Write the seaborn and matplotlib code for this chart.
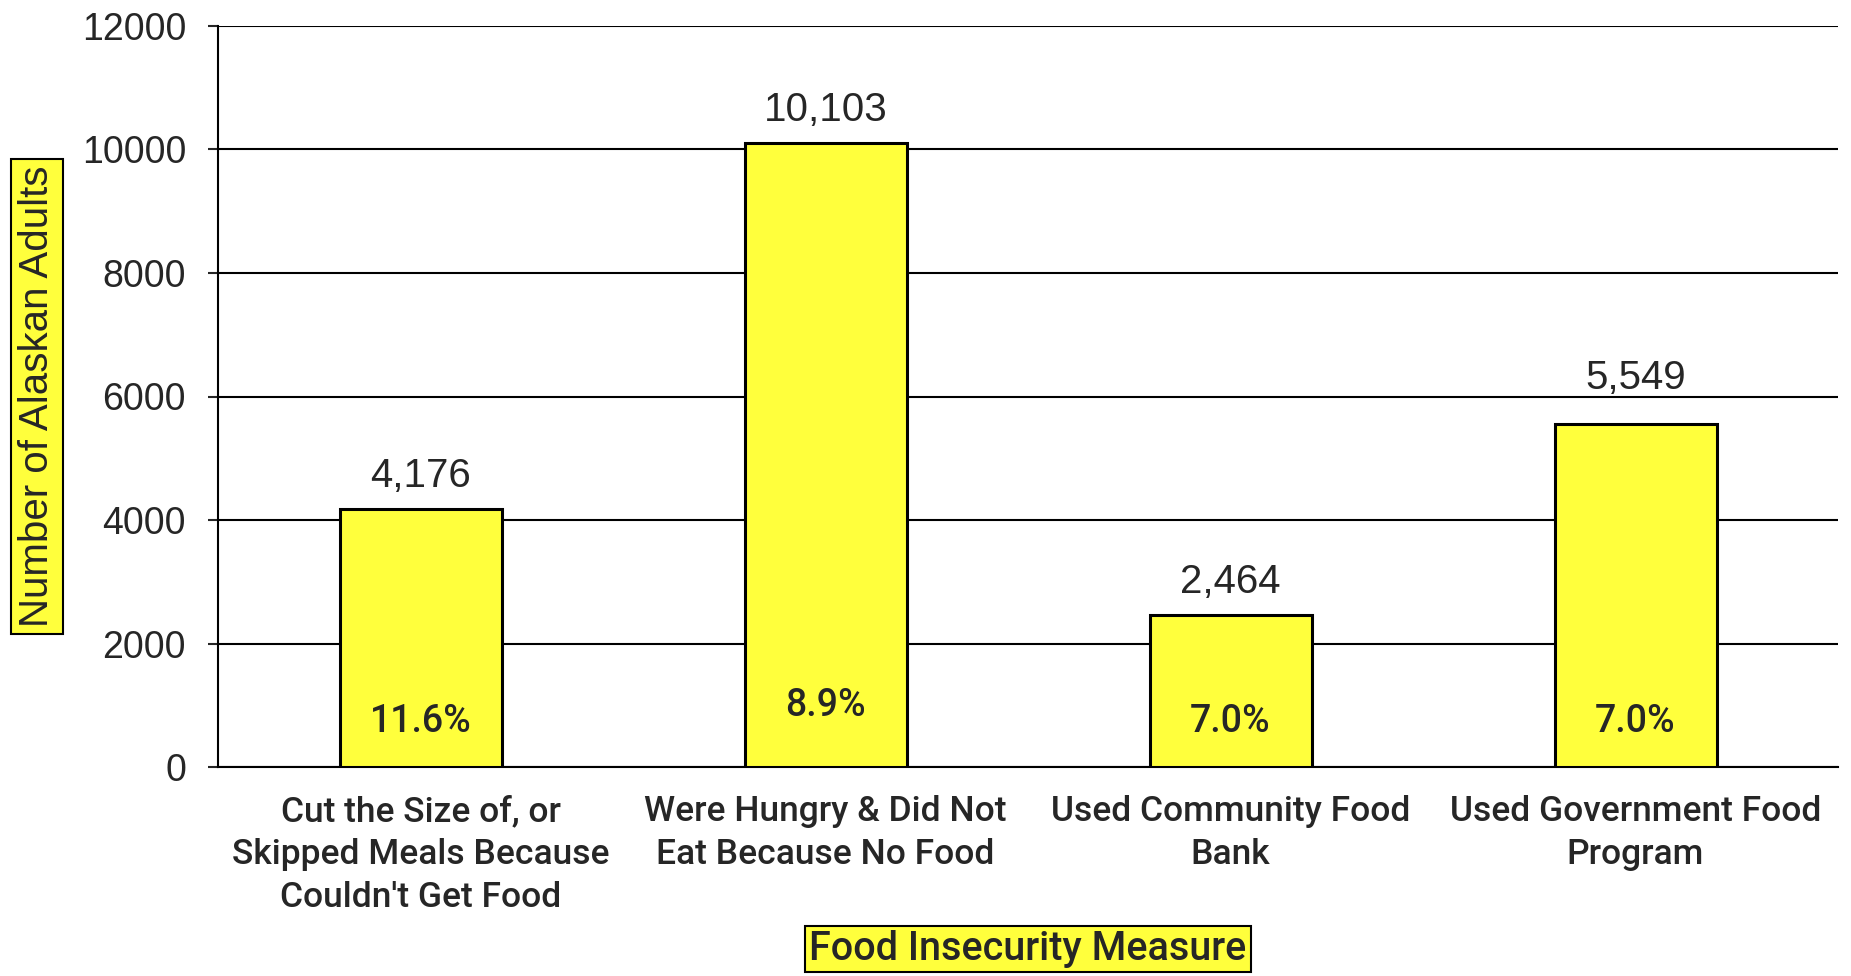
import pandas as pd
import seaborn as sns
import matplotlib.pyplot as plt

categories = ["Cut the Size of, or\nSkipped Meals Because\nCouldn't Get Food",
              "Were Hungry & Did Not\nEat Because No Food",
              "Used Community Food\nBank",
              "Used Government Food\nProgram"]
adults = [4176, 10103, 2464, 5549]
percents = ["11.6%", "8.9%", "7.0%", "7.0%"]
pct_y = [740, 1000, 740, 740]
label_lift = [10, 10, 10, 20]

df = pd.DataFrame({'measure': categories, 'adults': adults})

sns.set_style('white')
plt.rcParams['font.family'] = ['Liberation Sans', 'DejaVu Sans']
side_font = ['Roboto', 'DejaVu Sans']

fig = plt.figure(figsize=(18.51, 9.76), dpi=100)
ax = fig.add_axes([0.1178, 0.2141, 0.8752, 0.7593])

sns.barplot(data=df, x='measure', y='adults', color='#FFFF3C', saturation=1,
            width=0.4, edgecolor='black', linewidth=2.2, ax=ax, zorder=3)

ax.set_ylim(0, 12000)
ax.set_xlim(-0.5, 3.5)
ax.set_yticks(range(0, 12001, 2000))
ax.yaxis.grid(True, color='black', linewidth=1.5, zorder=0)
ax.set_axisbelow(True)
for s in ['top', 'right']:
    ax.spines[s].set_visible(False)
for s in ['left', 'bottom']:
    ax.spines[s].set_linewidth(1.5)
    ax.spines[s].set_color('black')

ax.tick_params(axis='y', direction='out', length=7, width=1.5, pad=16, labelsize=27, left=True)
ax.tick_params(axis='x', length=0, pad=20)
for lab in ax.get_xticklabels():
    lab.set_fontfamily(side_font)
    lab.set_fontsize(25.5)
    lab.set_fontweight(500)
    lab.set_linespacing(1.38)

for i, v in enumerate(adults):
    ax.annotate(f'{v:,}', (i, v), xytext=(0, label_lift[i]), textcoords='offset points',
                ha='center', va='bottom', fontsize=29)
    ax.text(i, pct_y[i], percents[i], ha='center', va='center', fontsize=27,
            family=side_font, fontweight=500, zorder=5)

ax.set_ylabel('Number of Alaskan Adults', fontsize=29,
              bbox=dict(facecolor='#FFFF3C', edgecolor='black', linewidth=1.5, pad=5))
ax.yaxis.set_label_coords(-0.1, 0.5)
ax.set_xlabel('Food Insecurity Measure', fontsize=28.5, family=side_font, fontweight=500,
              bbox=dict(facecolor='#FFFF3C', edgecolor='black', linewidth=1.5, pad=3))
ax.xaxis.set_label_coords(0.5, -0.22)

fig.savefig('out.png', dpi=100)
